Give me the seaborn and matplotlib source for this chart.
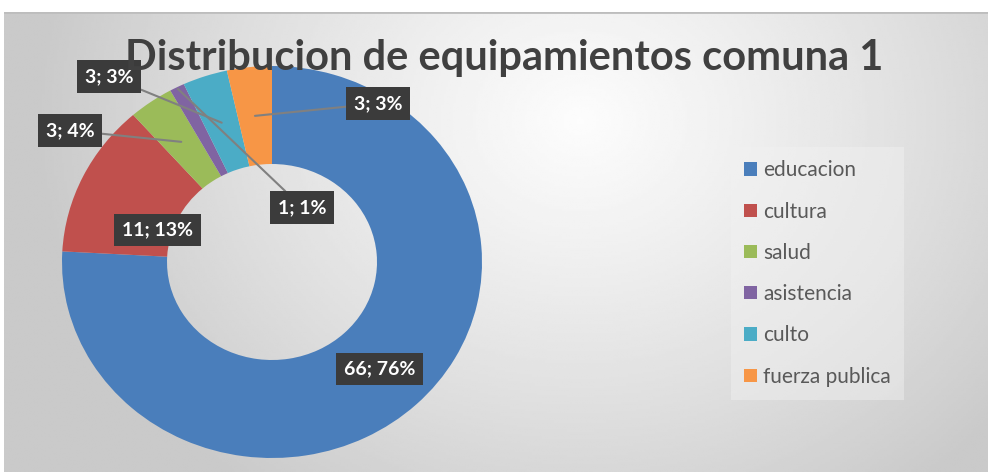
import numpy as np
import matplotlib
matplotlib.use("Agg")
import matplotlib.pyplot as plt
import seaborn as sns

# data
categorias = ["educacion", "cultura", "salud", "asistencia", "culto", "fuerza publica"]
cantidades = [66, 11, 3, 1, 3, 3]
porcentajes = [76, 13, 4, 1, 3, 3]
titulo = "Distribucion de equipamientos comuna 1"

sns.set_theme(style="white")
plt.rcParams["font.family"] = ["Lato", "DejaVu Sans"]

colores = sns.color_palette(["#4a7ebb", "#c0504d", "#9bbb59", "#8064a2", "#4bacc6", "#f79646"])

W, H = 988, 472
fig = plt.figure(figsize=(W / 100, H / 100), dpi=100)
fig.patch.set_facecolor("white")

def px(x0, y0, x1, y1):
    # pixel box (top-left origin) -> figure fraction
    return [x0 / W, 1 - y1 / H, (x1 - x0) / W, (y1 - y0) / H]

# gray radial gradient panel like the Excel chart area
bg = fig.add_axes(px(4, 12, 988, 472), zorder=-5)
gx, gy = np.meshgrid(np.linspace(4, 988, 400), np.linspace(12, 472, 200))
d = np.sqrt(((gx - 580) / 1.0) ** 2 + ((gy - 120) / 0.85) ** 2)
shade = np.clip(0.99 - 0.0003 * d - 0.00000012 * d ** 2, 0.79, 1)
bg.imshow(shade, cmap="gray", vmin=0, vmax=1, aspect="auto",
          extent=[0, 1, 0, 1], interpolation="bilinear")
bg.axhline(1, color="#bdbdbd", lw=2)
bg.set_axis_off()

# donut, slightly wider than tall as in the original
ax = fig.add_axes(px(62, 66, 482, 458))
wedges, _ = ax.pie(cantidades, colors=colores, startangle=90, counterclock=False,
                   radius=1, wedgeprops=dict(width=0.5, edgecolor="none"))
ax.set_aspect("auto")
ax.set_xlim(-1, 1)
ax.set_ylim(-1, 1)
ax.set_axis_off()

# label box positions (relative to donut centre) and where leader lines end
pos_etiqueta = [(0.514, -0.546), (-0.545, 0.163), (-0.962, 0.671),
                (0.145, 0.278), (-0.776, 0.946), (0.507, 0.809)]
radio_linea = [None, None, 0.75, 0.99, 0.75, 0.75]

for w, n, p, (lx, ly), r in zip(wedges, cantidades, porcentajes, pos_etiqueta, radio_linea):
    ang = np.deg2rad((w.theta1 + w.theta2) / 2)
    caja = dict(boxstyle="square,pad=0.4", fc="#3b3b3b", ec="none")
    txt = f"{n}; {p}%"
    if r is None:
        ax.text(lx, ly, txt, ha="center", va="center", color="white",
                fontsize=14, fontweight="bold", bbox=caja, zorder=5)
    else:
        ax.annotate(txt, xy=(r * np.cos(ang), r * np.sin(ang)), xytext=(lx, ly),
                    ha="center", va="center", color="white", fontsize=14,
                    fontweight="bold", bbox=caja, zorder=5,
                    arrowprops=dict(arrowstyle="-", color="#808080", lw=1.5,
                                    shrinkA=0, shrinkB=0))

fig.text(504 / W, 1 - 58 / H, titulo, ha="center", va="center",
         fontsize=30, fontweight="bold", color="#404040")

leg = fig.legend(wedges, categorias, loc="upper left",
                 bbox_to_anchor=(737 / W, 1 - 153 / H), fontsize=15,
                 frameon=True, handlelength=0.6, handleheight=0.6,
                 handletextpad=0.3, labelspacing=1.02, borderpad=0.35,
                 borderaxespad=0)
leg.get_frame().set_facecolor("#f2f2f2")
leg.get_frame().set_alpha(0.45)
leg.get_frame().set_edgecolor("none")
leg.get_frame().set_boxstyle("square")
for t in leg.get_texts():
    t.set_color("#595959")

plt.savefig("out.png", dpi=100)
